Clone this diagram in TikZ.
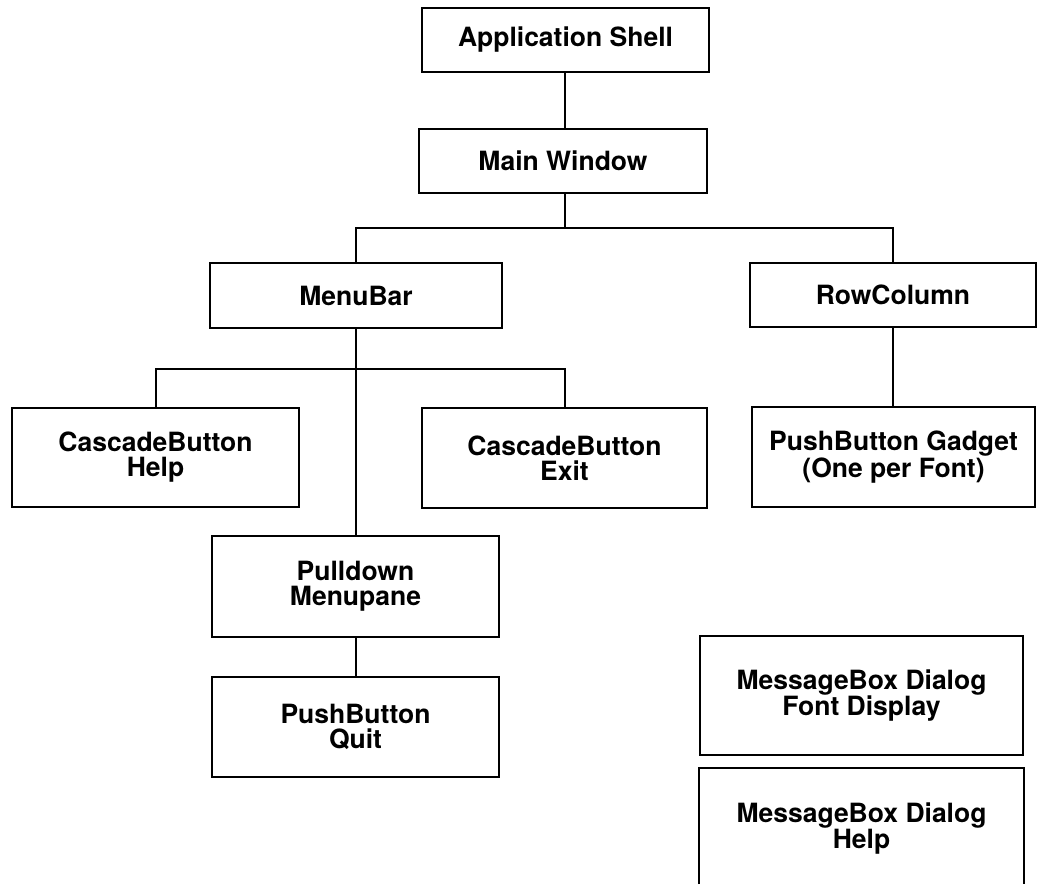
\documentclass[tikz,border=0pt]{standalone}
\usepackage{fontspec}
\setmainfont{TeX Gyre Heros}
\begin{document}
\begin{tikzpicture}[x=1pt,y=-1pt,
  box/.style={draw, line width=2.2pt, inner sep=0pt, align=center,
    font=\fontsize{26.5}{25}\selectfont\bfseries},
  conn/.style={line width=2pt}]
\useasboundingbox (0,0) rectangle (1038,884);
\node[box, minimum width=287, minimum height=64] (app) at (565.5,40) {Application Shell};
\node[box, minimum width=288, minimum height=64] (main) at (563,161) {Main Window};
\node[box, minimum width=292, minimum height=65] (menubar) at (356,295.5) {MenuBar};
\node[box, minimum width=286, minimum height=64] (rowcol) at (893,295) {RowColumn};
\node[box, minimum width=287, minimum height=99] (help) at (155.5,457.5) {CascadeButton\\Help};
\node[box, minimum width=285, minimum height=100] (exit) at (564.5,458) {CascadeButton\\Exit};
\node[box, minimum width=283, minimum height=100] (gadget) at (893.5,457) {PushButton Gadget\\(One per Font)};
\node[box, minimum width=287, minimum height=101] (pulldown) at (355.5,586.5) {Pulldown\\Menupane};
\node[box, minimum width=287, minimum height=100] (quit) at (355.5,727) {PushButton\\Quit};
\node[box, minimum width=323, minimum height=119] (msgfont) at (861.5,695.5) {MessageBox Dialog\\Font Display};
\node[box, draw=none, minimum width=323, minimum height=119] (msghelp) at (861.5,828.5) {MessageBox Dialog\\Help};
\draw[box] (msghelp.north west |- 0,884) -- (msghelp.north west) -- (msghelp.north east) -- (msghelp.north east |- 0,884);
\coordinate (j1) at (565,228);
\coordinate (j2) at (356,369);
\draw[conn] (app.south -| j1) -- (main.north -| j1);
\draw[conn] (main.south -| j1) -- (j1);
\draw[conn] (menubar.north) |- (j1) -| (rowcol.north);
\draw[conn] (menubar.south) -- (menubar.south |- pulldown.north);
\draw[conn] (help.north) |- (j2) -| (exit.north);
\draw[conn] (pulldown.south) -- (quit.north);
\draw[conn] (rowcol.south) -- (rowcol.south |- gadget.north);
\end{tikzpicture}
\end{document}
